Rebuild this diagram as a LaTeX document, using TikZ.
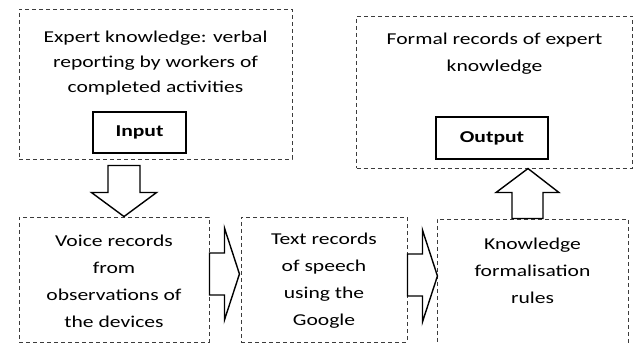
\documentclass[tikz,border=0pt]{standalone}
\usepackage{fontspec}
\setmainfont{Carlito}[FakeStretch=1.3]
\usepackage{tikz}
\usetikzlibrary{positioning, calc}
\definecolor{framegray}{RGB}{60,60,60}
\tikzset{
  frame/.style={rectangle, draw=framegray, line width=0.9pt,
    dash pattern=on 4pt off 3pt, inner sep=0pt},
  txt/.style={align=center, inner sep=0pt,
    font=\fontsize{16.6}{27}\selectfont},
  iobox/.style={rectangle, draw, line width=1.2pt, inner sep=0pt,
    font=\fontsize{16.6}{20}\selectfont\bfseries},
  blockarrow/.style={draw, line width=1.4pt, fill=white, line join=miter},
}

\begin{document}
\begin{tikzpicture}[x=1pt, y=1pt]
  \useasboundingbox (0,0) rectangle (634,345);
  \clip (0,0) rectangle (634,345);
  % top row
  \node[frame, minimum width=273, minimum height=150] (expert) at (155.5,261) {};
  \node[txt, font=\fontsize{16.6}{25}\selectfont] (experttxt)
    at ([yshift=21]expert.center) {Expert knowledge: verbal\\reporting by workers of\\completed activities};
  \node[iobox, minimum width=93, minimum height=41] (input)
    at ([xshift=-16, yshift=-48.5]expert.center) {Input};
  \node[frame, minimum width=276, minimum height=152] (formal) at (494.5,253) {};
  \node[txt] (formaltxt)
    at ([yshift=38.5]formal.center) {Formal records of expert\\knowledge};
  \node[iobox, minimum width=112, minimum height=42] (output)
    at ([xshift=-2.5, yshift=-46]formal.center) {Output};
  % bottom row
  \node[frame, minimum width=190, minimum height=125] (voice) at (114,65.5) {};
  \node[txt] (voicetxt) at ([yshift=-1.5]voice.center)
    {Voice records\\from\\observations of\\the devices};
  \node[frame, minimum width=166, minimum height=125] (textrec) at (324,65.5) {};
  \node[txt] (textrectxt) at ([yshift=-1.5]textrec.center)
    {Text records\\of speech\\using the\\Google};
  \node[frame, minimum width=191, minimum height=136] (rules) at (532.5,58) {};
  \node[txt] (rulestxt) at ([yshift=16]rules.center)
    {Knowledge\\formalisation\\rules};
  % block arrows
  \draw[blockarrow] ([xshift=10]voice.north) -- ++(32.5,24) -- ++(-16.5,0)
    -- ++(0,27) -- ++(-32,0) -- ++(0,-27) -- ++(-16.5,0) -- cycle;
  \draw[blockarrow] ([yshift=26.5]voice.east) -- ++(15,0) -- ++(0,25)
    -- ++(15,-46) -- ++(-15,-46) -- ++(0,25) -- ++(-15,0) -- cycle;
  \draw[blockarrow] ([yshift=25.5]textrec.east) -- ++(15,0) -- ++(0,24)
    -- ++(15,-46) -- ++(-15,-46) -- ++(0,26) -- ++(-15,0) -- cycle;
  \draw[blockarrow] ([xshift=-20.5]rules.north) -- ++(0,26) -- ++(-16,0)
    -- ++(32,24) -- ++(31,-24) -- ++(-16,0) -- ++(0,-26) -- cycle;
\end{tikzpicture}
\end{document}
